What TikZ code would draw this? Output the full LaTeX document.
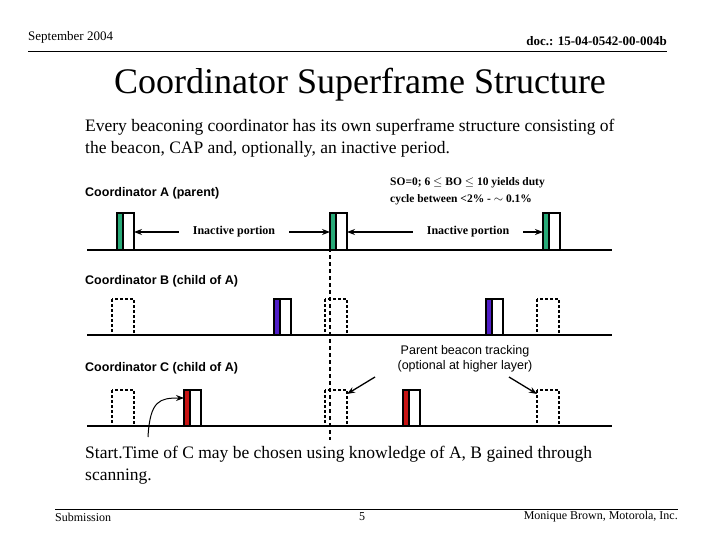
\documentclass[tikz,border=0pt]{standalone}
\usepackage{fontspec}
\setmainfont{Liberation Serif}
\newfontfamily\arial{Liberation Sans}
\usetikzlibrary{arrows.meta}
\begin{document}
\begin{tikzpicture}[x=1pt,y=-1pt,
  base/.style={line width=2pt},
  slot/.style={draw,line width=1.4pt,fill=white},
  dslot/.style={draw,line width=1.2pt,dashed,dash pattern=on 3pt off 2pt},
  lab/.style={font=\arial\bfseries\fontsize{12.5}{14}\selectfont,anchor=west,inner sep=0},
  arr/.style={-{Stealth[length=8pt,width=6pt]},line width=1.3pt}]
\useasboundingbox (0,0) rectangle (720,540);
\node[anchor=west,font=\fontsize{13}{15}\selectfont,inner sep=0] (date) at (28,37) {September 2004};
\node[anchor=east,font=\bfseries\fontsize{13}{15}\selectfont,inner sep=0] (doc) at (667,41) {doc.: 15-04-0542-00-004b};
\draw[line width=0.8pt] (28,51) -- (667,51);
\node[font=\fontsize{36}{40}\selectfont] (title) at (360,85) {Coordinator Superframe Structure};
\node[anchor=north west,align=left,font=\fontsize{17.5}{22}\selectfont,inner sep=0] (intro) at (85,119)
  {Every beaconing coordinator has its own superframe structure consisting of\\the beacon, CAP and, optionally, an inactive period.};
% rows
\foreach \y in {250,335,426} {\draw[base] (87,\y) -- (612,\y);}
\node[lab] (la) at (85,193) {Coordinator A (parent)};
\node[lab] (lb) at (85,281) {Coordinator B (child of A)};
\node[lab] (lc) at (85,368) {Coordinator C (child of A)};
\node[anchor=west,align=left,font=\bfseries\fontsize{11.5}{17}\selectfont,inner sep=0] (so) at (390,191)
  {SO=0; 6 $\leq$ BO $\leq$ 10 yields duty\\cycle between <2\% - $\sim$ 0.1\%};
% A beacons
\foreach \x/\n in {117/a1,330/a2,543/a3} {
  \draw[slot] (\x,213) rectangle (\x+17,250);
  \fill[fill={rgb,255:red,40;green,170;blue,120}] (\x+0.7,213.7) rectangle (\x+6,249);
  \draw[line width=1.4pt] (\x+6,213) -- (\x+6,250);
  \coordinate (\n l) at (\x,232); \coordinate (\n r) at (\x+17,232);
}
\node[font=\bfseries\fontsize{12}{14}\selectfont,inner sep=0] (ia1) at (234,232) {Inactive portion};
\node[font=\bfseries\fontsize{12}{14}\selectfont,inner sep=0] (ia2) at (468,232) {Inactive portion};
\draw[arr] (ia1.west) ++(-14,0) -- (a1r);
\draw[arr] (ia1.east) ++(14,0) -- (a2l);
\draw[arr] (ia2.west) ++(-14,0) -- (a2r);
\draw[arr] (ia2.east) ++(14,0) -- (a3l);
% B
\foreach \x in {112,325,537} {\draw[dslot] (\x,299) rectangle (\x+22,335);}
\foreach \x in {274,486} {
  \draw[slot] (\x,299) rectangle (\x+17,335);
  \fill[fill={rgb,255:red,80;green,30;blue,200}] (\x+0.7,299.7) rectangle (\x+6,334);
  \draw[line width=1.4pt] (\x+6,299) -- (\x+6,335);
}
% C
\foreach \x/\n in {112/c1,325/c2,537/c3} {\draw[dslot] (\x,390) rectangle (\x+22,426); \coordinate (\n) at (\x+22,394);}
\coordinate (c3t) at (537,394);
\foreach \x/\n in {184/r1,403/r2} {
  \draw[slot] (\x,390) rectangle (\x+17,426);
  \fill[fill={rgb,255:red,200;green,20;blue,20}] (\x+0.7,390.7) rectangle (\x+6,425);
  \draw[line width=1.4pt] (\x+6,390) -- (\x+6,426);
  \coordinate (\n) at (\x,398);
}
\draw[line width=1.2pt,dashed,dash pattern=on 4pt off 3pt] (330,213) -- (330,440);
\node[align=center,font=\arial\fontsize{12.5}{15}\selectfont] (pbt) at (465,359) {Parent beacon tracking\\(optional at higher layer)};
\draw[arr] (375,377) -- (c2);
\draw[arr] (509,377) -- (c3t);
\coordinate (cs) at (148,437);
\draw[arr,line width=1pt] (cs) .. controls (150,400) and (160,398) .. (r1);
\node[anchor=north west,align=left,font=\fontsize{17.5}{22}\selectfont,inner sep=0] (start) at (85,446)
  {Start.Time of C may be chosen using knowledge of A, B gained through\\scanning.};
\draw[line width=0.8pt] (55,509) -- (678,509);
\node[anchor=west,font=\fontsize{12}{14}\selectfont,inner sep=0] (sub) at (55,517) {Submission};
\node[font=\fontsize{12}{14}\selectfont,inner sep=0] (pg) at (362,517) {5};
\node[anchor=east,font=\fontsize{12}{14}\selectfont,inner sep=0] (auth) at (678,517) {Monique Brown, Motorola, Inc.};
\end{tikzpicture}
\end{document}
